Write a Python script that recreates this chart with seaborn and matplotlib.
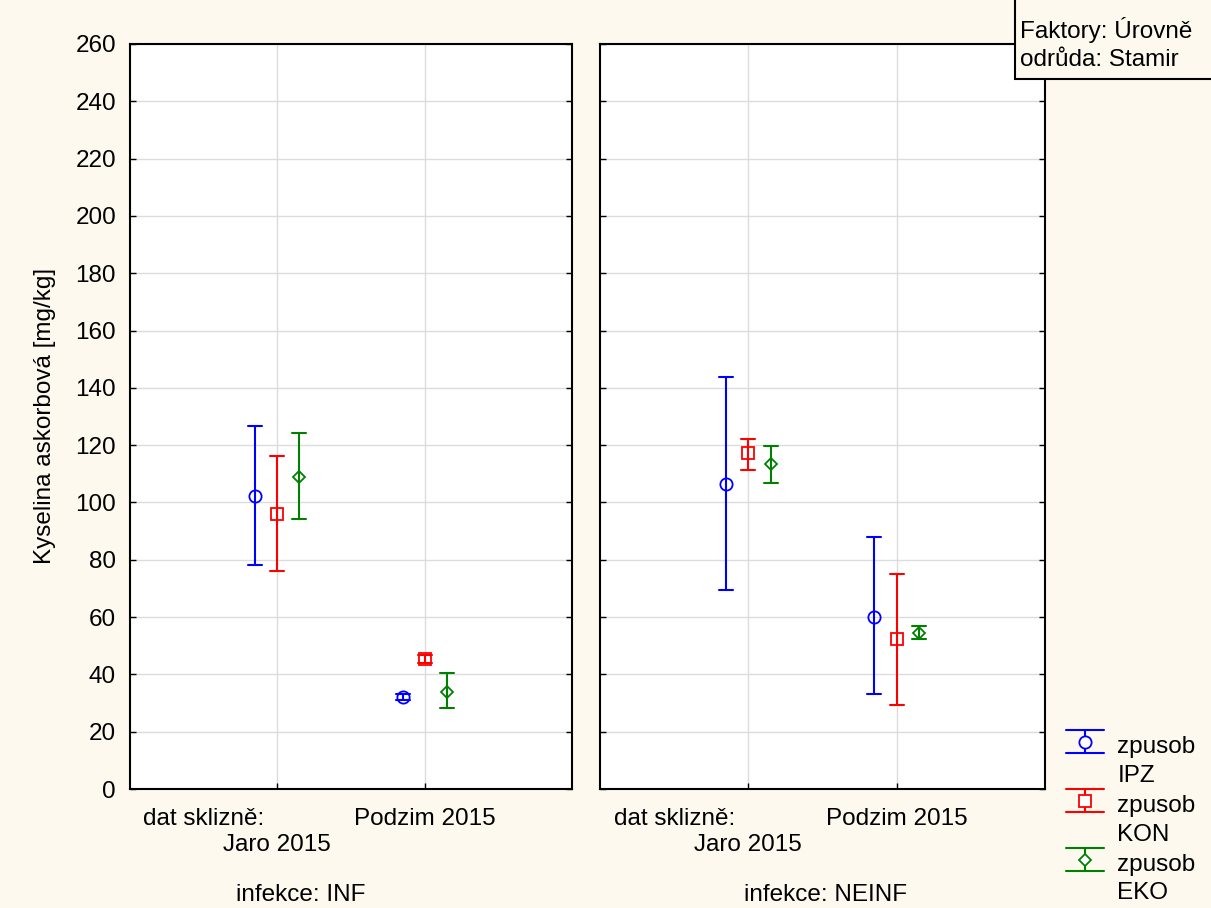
import numpy as np
import pandas as pd
import matplotlib
matplotlib.use("Agg")
import matplotlib.pyplot as plt
import seaborn as sns
from matplotlib.lines import Line2D
from matplotlib.patches import Rectangle
from matplotlib.legend_handler import HandlerBase

# ---------------- data ----------------
infekce = ["INF", "NEINF"]
datum = ["Jaro 2015", "Podzim 2015"]
zpusob = ["IPZ", "KON", "EKO"]

# [datum][zpusob]
inf_mean = [[102.3, 96.0, 109.0], [32.0, 45.3, 34.0]]
inf_low = [[78.2, 76.1, 94.1], [31.1, 44.0, 28.1]]
inf_high = [[126.7, 116.2, 124.4], [33.0, 46.6, 40.4]]

neinf_mean = [[106.5, 117.2, 113.4], [60.1, 52.2, 54.5]]
neinf_low = [[69.5, 111.5, 106.9], [33.1, 29.3, 52.5]]
neinf_high = [[143.7, 122.3, 119.7], [88.0, 75.2, 56.9]]

y_ticks = list(range(0, 261, 20))
palette = {"IPZ": "#0000FF", "KON": "#FF0000", "EKO": "#008000"}
markers = ["o", "s", "D"]
marker_sizes = {"o": 8.8, "s": 8.0, "D": 6.2}

rows = []
for name, m, lo, hi in [("INF", inf_mean, inf_low, inf_high),
                        ("NEINF", neinf_mean, neinf_low, neinf_high)]:
    for di, d in enumerate(datum):
        for zi, z in enumerate(zpusob):
            for v in (lo[di][zi], m[di][zi], hi[di][zi]):
                rows.append(dict(infekce=name, datum=d, zpusob=z, value=v))
df = pd.DataFrame(rows)

# ---------------- style ----------------
sns.set_style("white")
plt.rcParams["font.family"] = ["Liberation Sans", "DejaVu Sans"]
plt.rcParams["text.color"] = "black"
plt.rcParams["axes.labelcolor"] = "black"
plt.rcParams["xtick.color"] = "black"
plt.rcParams["ytick.color"] = "black"
FS = 17.5
BG = "#FDF9EE"

W, H = 1211, 908
fig = plt.figure(figsize=(W / 100, H / 100), dpi=100, facecolor=BG)

boxes = [(130, 44, 572, 789), (600, 44, 1045, 789)]
text_x = [0.387, 0.506]
axes = []
for i, (l, t, r, b) in enumerate(boxes):
    ax = fig.add_axes([l / W, 1 - b / H, (r - l) / W, (b - t) / H])
    ax.set_facecolor("white")
    sub = df[df["infekce"] == infekce[i]]
    sns.pointplot(data=sub, x="datum", y="value", hue="zpusob",
                  order=datum, hue_order=zpusob, palette=palette,
                  estimator="median", errorbar=lambda v: (v.min(), v.max()),
                  markers=markers, linestyles="none", dodge=0.3,
                  capsize=0.095, err_kws={"linewidth": 1.5},
                  markersize=8.0, markerfacecolor="none",
                  markeredgewidth=1.3, legend=False, ax=ax)
    for ln in ax.lines:
        mk = ln.get_marker()
        if mk in marker_sizes:
            ln.set_markersize(marker_sizes[mk])
            ln.set_markerfacecolor("none")
    ax.set_xlim(-1, 2)
    ax.set_ylim(0, 260)
    ax.set_yticks(y_ticks)
    ax.set_xticks([0, 1])
    ax.set_xticklabels(["", datum[1]])
    ax.set_xticks([-0.5], minor=True)
    ax.set_xticklabels(["dat sklizně:"], minor=True)
    ax.tick_params(which="minor", axis="x", length=0, pad=14, labelsize=FS)
    ax.tick_params(which="major", direction="in", length=4, width=1,
                   colors="black", labelsize=FS, left=True, right=True,
                   bottom=True, top=False)
    ax.tick_params(axis="x", which="major", pad=14)
    ax.tick_params(axis="y", which="major", pad=10)
    if i == 1:
        ax.tick_params(axis="y", labelleft=False)
    # second line of the first category label
    ax.annotate(datum[0], xy=(0, 0), xycoords=("data", "axes fraction"),
                xytext=(0, -56), textcoords="offset pixels",
                ha="center", va="center", fontsize=FS)
    ax.grid(True, which="major", color="#DCDCDC", linewidth=1)
    ax.set_axisbelow(True)
    for sp in ax.spines.values():
        sp.set_visible(True)
        sp.set_color("black")
        sp.set_linewidth(1.5)
    ax.set_xlabel("")
    ax.set_ylabel("")
    ax.text(text_x[i], -0.142, f"infekce: {infekce[i]}", transform=ax.transAxes,
            ha="center", va="center", fontsize=FS)
    axes.append(ax)

fig.text(45 / W, 1 - 416 / H, "Kyselina askorbová [mg/kg]", rotation=90,
         ha="center", va="center", fontsize=FS)


# ---------------- legend ----------------
class HandlerEB(HandlerBase):
    def create_artists(self, legend, orig_handle, xdescent, ydescent,
                       width, height, fontsize, trans):
        c = orig_handle.get_color()
        yc = height * 0.5 - ydescent + 14
        half = 8.3
        x0, x1 = -xdescent, -xdescent + width
        xm = (x0 + x1) / 2
        arts = [
            Line2D([x0, x1], [yc + half, yc + half], color=c, lw=1.5),
            Line2D([x0, x1], [yc - half, yc - half], color=c, lw=1.5),
            Line2D([xm, xm], [yc - half, yc + half], color=c, lw=1.5),
            Line2D([xm], [yc], marker=orig_handle.get_marker(),
                   markersize=orig_handle.get_markersize(),
                   markerfacecolor="white", markeredgecolor=c,
                   markeredgewidth=1.3, linestyle="none"),
        ]
        for a in arts:
            a.set_transform(trans)
        return arts


handles = [Line2D([], [], color=palette[z], marker=mk, linestyle="none",
                  markersize=marker_sizes[mk])
           for z, mk in zip(zpusob, markers)]
labels = [f"zpusob\n{z}" for z in zpusob]
leg = fig.legend(handles, labels, handler_map={Line2D: HandlerEB()},
                 loc="upper left", bbox_to_anchor=(1066 / W, 1 - 736 / H),
                 frameon=False, borderpad=0, borderaxespad=0, handlelength=1.56,
                 handletextpad=0.55, labelspacing=0.33, fontsize=FS)
for t in leg.get_texts():
    t.set_linespacing(1.4)

# ---------------- factor box ----------------
fig.add_artist(Rectangle((1015 / W, 1 - 79 / H), 0.5, 0.5,
                         transform=fig.transFigure, facecolor=BG,
                         edgecolor="black", linewidth=1.5, zorder=5))
fig.text(1020 / W, 1 - 17 / H, "Faktory: Úrovně\nodrůda: Stamir",
         ha="left", va="top", fontsize=FS, zorder=6, linespacing=1.35)

fig.savefig("out.png", dpi=100, facecolor=BG)
